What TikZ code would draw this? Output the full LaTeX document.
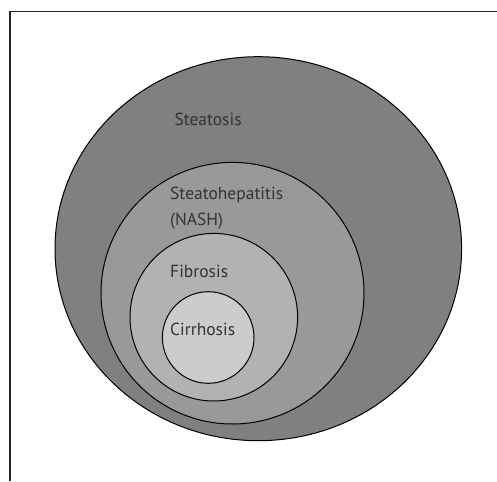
\documentclass[tikz,border=0pt]{standalone}
\usepackage{fontspec}
\setmainfont{PT Sans}
\begin{document}
\begin{tikzpicture}[x=1pt,y=-1pt,
  ring/.style={draw=black,line width=1pt},
  lbl/.style={anchor=base west,inner sep=0pt,text=black!80,font=\fontsize{17.5}{26}\selectfont}]
\useasboundingbox (0,0) rectangle (497,481);
\draw[line width=1.3pt,black!85] (10,481) -- (10,11.5) -- (497,11.5);
\path[ring,fill=black!50] (258.3,248.7) ellipse [x radius=203.3, y radius=192];
\path[ring,fill=black!40] (232.5,293.2) ellipse [x radius=131.5, y radius=130.8];
\path[ring,fill=black!30] (213.8,317.2) ellipse [x radius=83.8, y radius=83.8];
\path[ring,fill=black!20] (208.2,337.5) ellipse [x radius=45.8, y radius=45.8];
\node[lbl] (steatosis) at (174.3,126) {Steatosis};
\node[lbl] (nash) at (170,199) {Steatohepatitis};
\node[lbl] (nash2) at (170,225) {(NASH)};
\node[lbl] (fibrosis) at (170,277.7) {Fibrosis};
\node[lbl] (cirrhosis) at (170,335) {Cirrhosis};
\end{tikzpicture}
\end{document}
